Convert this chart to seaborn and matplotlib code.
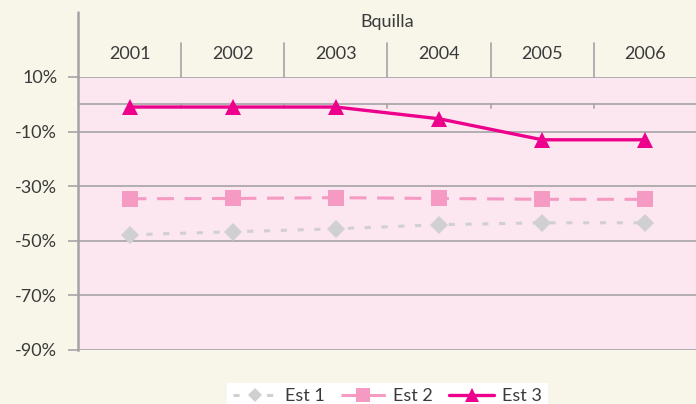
import numpy as np
import pandas as pd
import matplotlib
matplotlib.use("Agg")
import matplotlib.pyplot as plt
import seaborn as sns

years = ["2001", "2002", "2003", "2004", "2005", "2006"]
est1 = [-47.8, -46.7, -45.6, -44.1, -43.4, -43.4]
est2 = [-34.6, -34.5, -34.2, -34.5, -34.8, -34.8]
est3 = [-1.0, -1.0, -1.0, -5.3, -13.0, -13.0]
series_names = ["Est 1", "Est 2", "Est 3"]
group_title = "Bquilla"
y_ticks = [10, -10, -30, -50, -70, -90]

sns.set_theme(style="white")
plt.rcParams["font.family"] = ["Lato", "DejaVu Sans"]

bg = "#F8F6E9"
plot_bg = "#FCE6F0"
grid_c = "#A5A3A6"
text_c = "#3A3A3A"

df = pd.DataFrame({
    "pos": list(range(len(years))) * 3,
    "value": est1 + est2 + est3,
    "serie": sum([[n] * len(years) for n in series_names], []),
})

fig = plt.figure(figsize=(6.96, 4.04), dpi=100, facecolor=bg)
ax = fig.add_axes([78 / 696, 1 - 350 / 404, 619 / 696, 273 / 404])
ax.set_facecolor(plot_bg)

styles = {
    "Est 1": dict(color="#D0D0D2", marker="D", ms=9, dashes=(2, 3.5), lw=2.2),
    "Est 2": dict(color="#F49AC3", marker="s", ms=12, dashes=(5.5, 3.5), lw=2.2),
    "Est 3": dict(color="#EC008C", marker="^", ms=12, dashes=None, lw=2.4),
}

for name in series_names:
    st = styles[name]
    sub = df[df["serie"] == name]
    kw = dict(color=st["color"], marker=st["marker"], markersize=st["ms"],
              markeredgewidth=0, linewidth=st["lw"], label=name, ax=ax,
              zorder=3)
    line_ax = sns.lineplot(data=sub, x="pos", y="value", **kw)
    ln = line_ax.lines[-1]
    if st["dashes"] is not None:
        ln.set_dashes(st["dashes"])

fs = 13
ax.set_xlim(-0.5, len(years) - 0.5)
ax.set_ylim(-90, 10)
ax.set_yticks(y_ticks)
ax.set_yticklabels([f"{t}%" for t in y_ticks], color=text_c, fontsize=fs)
ax.set_xticks([])
ax.set_xlabel("")
ax.set_ylabel("")
for t in y_ticks:
    ax.axhline(t, color=grid_c, lw=1.2, zorder=1)
ax.axhline(0, color=grid_c, lw=1.2, zorder=1)
for i in range(1, len(years)):
    ax.plot([i - 0.5, i - 0.5], [0, -1.5], color=grid_c, lw=1.2, zorder=1)
ax.tick_params(axis="y", length=7, width=1.2, color=grid_c, pad=8, left=True)

for s in ["top", "right", "bottom"]:
    ax.spines[s].set_visible(False)
ax.spines["left"].set_color(grid_c)
ax.spines["left"].set_linewidth(1.8)

# header above the plotting area: group title and year columns
ax.plot([-0.5, -0.5], [10, 10 + 65 / 2.73], color=grid_c, lw=1.8, clip_on=False)
for i in range(1, len(years)):
    ax.plot([i - 0.5, i - 0.5], [10, 10 + 34 / 2.73], color=grid_c, lw=1.2,
            clip_on=False)
for i, y in enumerate(years):
    ax.text(i, 10 + 23 / 2.73, y, ha="center", va="center", fontsize=fs,
            color=text_c, clip_on=False)
ax.text(2.5, 10 + 55 / 2.73, group_title, ha="center", va="center",
        fontsize=fs, color=text_c, clip_on=False)

ax.legend(loc="center", bbox_to_anchor=(387 / 696, 1 - 396 / 404),
          bbox_transform=fig.transFigure, ncol=3, frameon=True,
          facecolor="white", edgecolor="white", framealpha=1, fancybox=False,
          fontsize=13, handlelength=2.5, columnspacing=0.9, markerscale=0.8,
          handletextpad=0.4, borderpad=0.3, labelcolor=text_c)

fig.savefig("out.png", dpi=100, facecolor=bg)
